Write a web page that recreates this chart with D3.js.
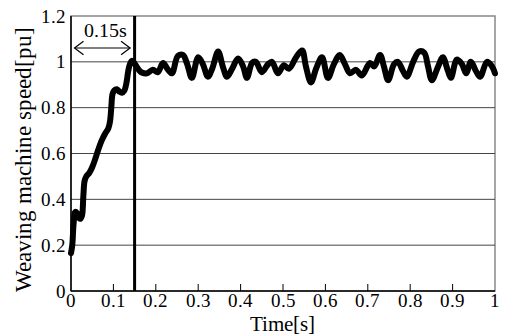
<!DOCTYPE html>
<html><head><meta charset="utf-8">
<script src="https://cdn.jsdelivr.net/npm/d3@7"></script>
<style>
@font-face{font-family:"ChartSerif";src:local("Liberation Serif"),local("LiberationSerif"),local("Liberation Serif Regular"),local("LiberationSerif-Regular");}
html,body{margin:0;padding:0;background:#fff;}
svg text{font-family:"ChartSerif","Liberation Serif","Times New Roman",serif !important;}
</style>
</head>
<body><svg id="c" width="505" height="336"></svg>
<script>
const time = [0.000,0.003,0.006,0.010,0.014,0.018,0.022,0.026,0.029,0.032,0.036,0.043,0.050,0.057,0.064,0.072,0.080,0.088,0.092,0.095,0.098,0.102,0.108,0.114,0.120,0.126,0.131,0.135,0.139,0.144,
0.151,0.165,0.179,0.193,0.205,0.217,0.229,0.238,0.252,0.264,0.274,0.285,0.300,0.311,0.323,0.333,0.347,0.358,0.368,0.380,0.394,0.406,0.415,0.427,0.436,0.450,0.465,0.474,0.488,0.502,0.514,0.531,0.545,0.554,0.566,0.578,0.592,0.606,0.620,0.634,0.646,0.658,0.672,0.686,0.705,0.715,0.729,0.738,0.748,0.762,0.771,0.783,0.792,0.807,0.821,0.833,0.842,0.851,0.866,0.877,0.889,0.896,0.910,0.922,0.932,0.943,0.955,0.965,0.981,0.993,1.000];
const speed = [0.165,0.20,0.29,0.345,0.34,0.32,0.315,0.33,0.41,0.48,0.50,0.515,0.54,0.575,0.615,0.655,0.685,0.71,0.74,0.80,0.86,0.875,0.88,0.87,0.865,0.875,0.91,0.96,0.99,1.005,
0.99,0.955,0.95,0.965,0.955,0.995,0.965,0.95,1.025,1.03,0.99,0.93,1.02,0.99,0.935,0.97,1.045,0.98,0.935,0.97,1.015,0.98,0.93,0.995,1.0,0.955,0.99,1.0,0.95,0.985,0.97,1.02,1.05,0.98,0.91,0.97,1.02,0.93,0.99,1.03,0.99,0.95,0.965,0.94,0.995,0.98,1.03,0.98,0.92,0.99,1.0,0.96,0.935,1.0,1.045,1.04,0.98,0.92,0.98,1.02,0.96,0.93,1.01,0.99,0.95,1.0,0.96,0.935,1.0,0.98,0.95];
const xTicks = [0,0.1,0.2,0.3,0.4,0.5,0.6,0.7,0.8,0.9,1];
const xTickLabels = ["0","0.1","0.2","0.3","0.4","0.5","0.6","0.7","0.8","0.9","1"];
const yTicks = [0,0.2,0.4,0.6,0.8,1,1.2];
const yTickLabels = ["0","0.2","0.4","0.6","0.8","1","1.2"];
const markerTime = 0.15;
const markerLabel = "0.15s";
const xTitle = "Time[s]";
const yTitle = "Weaving machine speed[pu]";

const FONT = '"ChartSerif", "Liberation Serif", "Times New Roman", serif';
const svg = d3.select("#c");
const L=71,R=495,T=16,B=291;
const x = d3.scaleLinear().domain([0,1]).range([L,R]);
const y = d3.scaleLinear().domain([0,1.2]).range([B,T]);

function txt(parent, size){
  const t = parent.append("text").attr("fill","#000").attr("font-family",FONT).attr("font-size",size);
  t.node().style.setProperty("font-family", FONT, "important");
  t.node().style.setProperty("font-size", size+"px", "important");
  return t;
}

svg.append("rect").attr("x",L).attr("y",T).attr("width",R-L).attr("height",B-T)
  .attr("fill","none").attr("stroke","#888").attr("stroke-width",1.5);

svg.append("g").selectAll("line").data(yTicks.filter(v=>v>0&&v<1.2)).join("line")
  .attr("x1",L).attr("x2",R).attr("y1",d=>y(d)).attr("y2",d=>y(d))
  .attr("stroke","#444").attr("stroke-width",1);

svg.append("line").attr("x1",L).attr("x2",L).attr("y1",T).attr("y2",B).attr("stroke","#000").attr("stroke-width",1.5);
svg.append("line").attr("x1",L).attr("x2",R).attr("y1",B).attr("y2",B).attr("stroke","#000").attr("stroke-width",1.5);

svg.append("g").selectAll("line").data(xTicks.filter(v=>v>0&&v<1)).join("line")
  .attr("x1",d=>x(d)).attr("x2",d=>x(d)).attr("y1",B).attr("y2",B-7)
  .attr("stroke","#000").attr("stroke-width",1);

xTicks.forEach((d,i)=>{
  txt(svg,18.5).attr("x",x(d)).attr("y",307).attr("text-anchor","middle").text(xTickLabels[i]);
});
yTicks.forEach((d,i)=>{
  txt(svg,18.5).attr("x",65.5).attr("y",y(d)+6.5).attr("text-anchor","end").text(yTickLabels[i]);
});

txt(svg,21).attr("x",282).attr("y",331).attr("text-anchor","middle").text(xTitle);
txt(svg,23).attr("transform","translate(31,159) rotate(-90)").attr("text-anchor","middle").text(yTitle);

svg.append("line").attr("x1",x(markerTime)).attr("x2",x(markerTime)).attr("y1",T).attr("y2",B)
  .attr("stroke","#000").attr("stroke-width",3);

const ay=48, ax1=x(0)+3.5, ax2=x(markerTime)-4.5;
const ag = svg.append("g").attr("stroke","#000").attr("stroke-width",1.2).attr("fill","none");
ag.append("line").attr("x1",ax1).attr("x2",ax2).attr("y1",ay).attr("y2",ay);
ag.append("path").attr("d",`M${ax1+9},${ay-6.7}L${ax1},${ay}L${ax1+9},${ay+6.7}`);
ag.append("path").attr("d",`M${ax2-9},${ay-6.7}L${ax2},${ay}L${ax2-9},${ay+6.7}`);
txt(svg,20).attr("x",(ax1+ax2)/2+3).attr("y",37).attr("text-anchor","middle").text(markerLabel);

const line = d3.line().x((d,i)=>x(time[i])).y(d=>y(d)).curve(d3.curveCatmullRom.alpha(0.5));
svg.append("path").attr("d",line(speed)).attr("fill","none").attr("stroke","#000")
  .attr("stroke-width",6).attr("stroke-linejoin","round").attr("stroke-linecap","round");
</script></body></html>
